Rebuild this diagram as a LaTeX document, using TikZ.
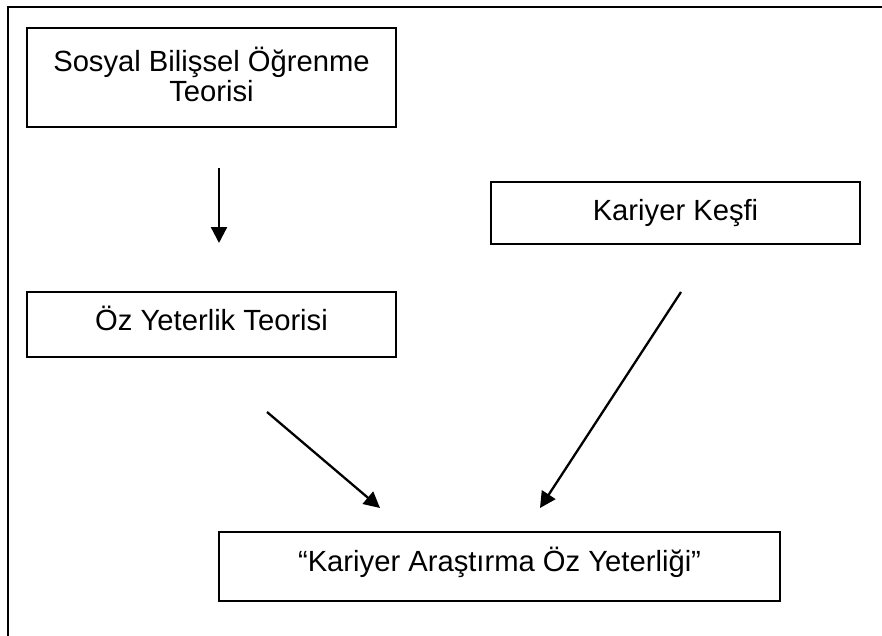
\documentclass[tikz,border=0pt]{standalone}
\usepackage{fontspec}
\setmainfont{Liberation Sans}
\usetikzlibrary{arrows.meta}
\tikzset{kutu/.style={draw,line width=2pt,inner sep=0pt},
yazi/.style={inner sep=0pt,align=center,font=\fontsize{29.2}{30}\selectfont},
ok/.style={line width=2.3pt,-{Triangle[length=16pt,width=16pt]}}}

\begin{document}
\begin{tikzpicture}[x=1pt,y=-1pt]
\useasboundingbox (0,0) rectangle (882,636);
\draw[line width=2pt] (882,7)--(8,7)--(8,636);
\node[kutu,minimum width=369pt,minimum height=99pt] (sbo) at (211.5,77.5) {};
\node[kutu,minimum width=369pt,minimum height=62pt] (kk) at (675.5,213) {};
\node[kutu,minimum width=369pt,minimum height=65pt] (oyt) at (211.5,324.5) {};
\node[kutu,minimum width=561pt,minimum height=69pt] (kaoy) at (499.5,566.5) {};
\node[yazi,yshift=3pt] (sbo-y) at (sbo) {Sosyal Bilişsel Öğrenme\\Teorisi};
\node[yazi] (kk-y) at (kk) {Kariyer Keşfi};
\node[yazi,yshift=6pt] (oyt-y) at (oyt) {Öz Yeterlik Teorisi};
\node[yazi,yshift=4pt] (kaoy-y) at (kaoy) {“Kariyer Araştırma Öz Yeterliği”};
\coordinate (a1) at (219,168); \coordinate (b1) at (219,243);
\coordinate (a2) at (267,412); \coordinate (b2) at (380,508);
\coordinate (a3) at (681,292); \coordinate (b3) at (540,508);
\draw[ok] (a1)--(b1);
\draw[ok] (a2)--(b2);
\draw[ok] (a3)--(b3);
\end{tikzpicture}
\end{document}
